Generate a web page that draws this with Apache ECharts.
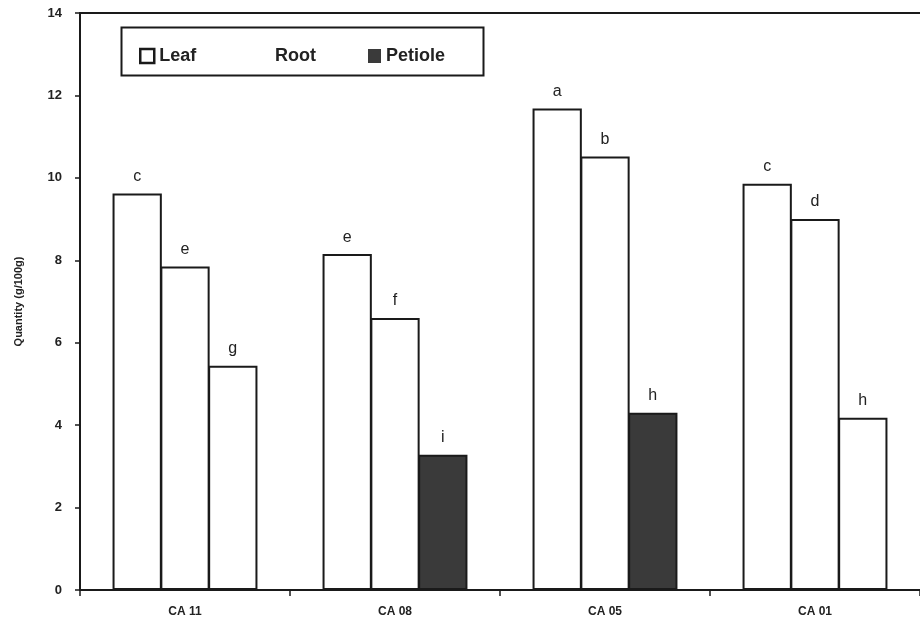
<!DOCTYPE html>
<html>
<head>
<meta charset="utf-8">
<script src="https://cdn.jsdelivr.net/npm/echarts@6/dist/echarts.min.js"></script>
<style>
  html, body { margin: 0; padding: 0; background: #fff; }
  #chart { width: 920px; height: 624px; }
</style>
</head>
<body>
<div id="chart"></div>
<script>
// cultivar groups on the x axis
var cultivars = ['CA 11', 'CA 08', 'CA 05', 'CA 01'];

// quantity g/100g
var leafVals = [9.62, 8.15, 11.68, 9.86];
var rootVals = [7.85, 6.6, 10.52, 9.0];
var petioleVals = [5.44, 3.28, 4.3, 4.18];

// significance letters above each bar
var leafLetters = ['c', 'e', 'a', 'c'];
var rootLetters = ['e', 'f', 'b', 'd'];
var petioleLetters = ['g', 'i', 'h', 'h'];

// which petiole bars are printed dark in the original
var petioleDark = [false, true, true, false];

var chart = echarts.init(document.getElementById('chart'));

function letterLabel(letters) {
    return {
        show: true,
        position: 'top',
        distance: 9,
        fontFamily: 'Liberation Sans',
        fontSize: 16,
        color: '#222',
        formatter: function (p) { return letters[p.dataIndex]; }
    };
}

var legendText = { fontFamily: 'Liberation Sans', fontWeight: 'bold', fontSize: 18, color: '#222' };
function oneLegend(left, item, iconW) {
    return {
        left: left,
        top: 47,
        padding: 0,
        itemWidth: iconW,
        itemHeight: 14,
        itemGap: 0,
        z: 10,
        textStyle: legendText,
        data: [item]
    };
}

var barBorder = { color: '#fff', borderColor: '#1a1a1a', borderWidth: 2 };

chart.setOption({
    animation: false,
    textStyle: { fontFamily: 'Liberation Sans' },
    grid: { left: 80, right: 0, top: 13, bottom: 34, show: false },
    graphic: [{
        type: 'rect',
        left: 119,
        top: 25,
        shape: { width: 362, height: 48 },
        style: { fill: 'none', stroke: '#1a1a1a', lineWidth: 2 },
        z: 1
    }],
    legend: [
        oneLegend(139, { name: 'Leaf', icon: 'rect', itemStyle: { color: '#fff', borderColor: '#1a1a1a', borderWidth: 2.5 } }, 14),
        oneLegend(270, { name: 'Root', icon: 'none' }, 0),
        oneLegend(368, { name: 'Petiole', icon: 'rect', itemStyle: { color: '#3a3a3a', borderWidth: 0 } }, 13)
    ],
    xAxis: [{
        type: 'category',
        data: cultivars,
        axisLine: { lineStyle: { color: '#1a1a1a', width: 2 } },
        axisTick: { show: true, length: 6, lineStyle: { color: '#1a1a1a', width: 1.5 } },
        axisLabel: { margin: 16, fontWeight: 'bold', fontSize: 12, color: '#222' }
    }, {
        type: 'category',
        position: 'top',
        data: cultivars,
        axisLine: { lineStyle: { color: '#1a1a1a', width: 2 } },
        axisTick: { show: false },
        axisLabel: { show: false }
    }],
    yAxis: {
        type: 'value',
        min: 0,
        max: 14,
        interval: 2,
        name: 'Quantity (g/100g)',
        nameLocation: 'middle',
        nameGap: 56,
        nameTextStyle: { fontWeight: 'bold', fontSize: 11, color: '#222' },
        axisLine: { show: true, lineStyle: { color: '#1a1a1a', width: 2 } },
        axisTick: { show: true, length: 5, lineStyle: { color: '#1a1a1a', width: 1.5 } },
        axisLabel: { margin: 18, fontWeight: 'bold', fontSize: 13, color: '#222' },
        splitLine: { show: false }
    },
    series: [{
        name: 'Leaf',
        type: 'bar',
        barGap: '-3%',
        barCategoryGap: '31%',
        data: leafVals,
        itemStyle: barBorder,
        label: letterLabel(leafLetters)
    }, {
        name: 'Root',
        type: 'bar',
        data: rootVals,
        itemStyle: barBorder,
        label: letterLabel(rootLetters)
    }, {
        name: 'Petiole',
        type: 'bar',
        data: petioleVals.map(function (v, i) {
            return {
                value: v,
                itemStyle: petioleDark[i]
                    ? { color: '#3a3a3a', borderColor: '#1a1a1a', borderWidth: 2 }
                    : { color: '#fff', borderColor: '#1a1a1a', borderWidth: 2 }
            };
        }),
        itemStyle: { color: '#3a3a3a' },
        label: letterLabel(petioleLetters)
    }]
});
</script>
</body>
</html>
